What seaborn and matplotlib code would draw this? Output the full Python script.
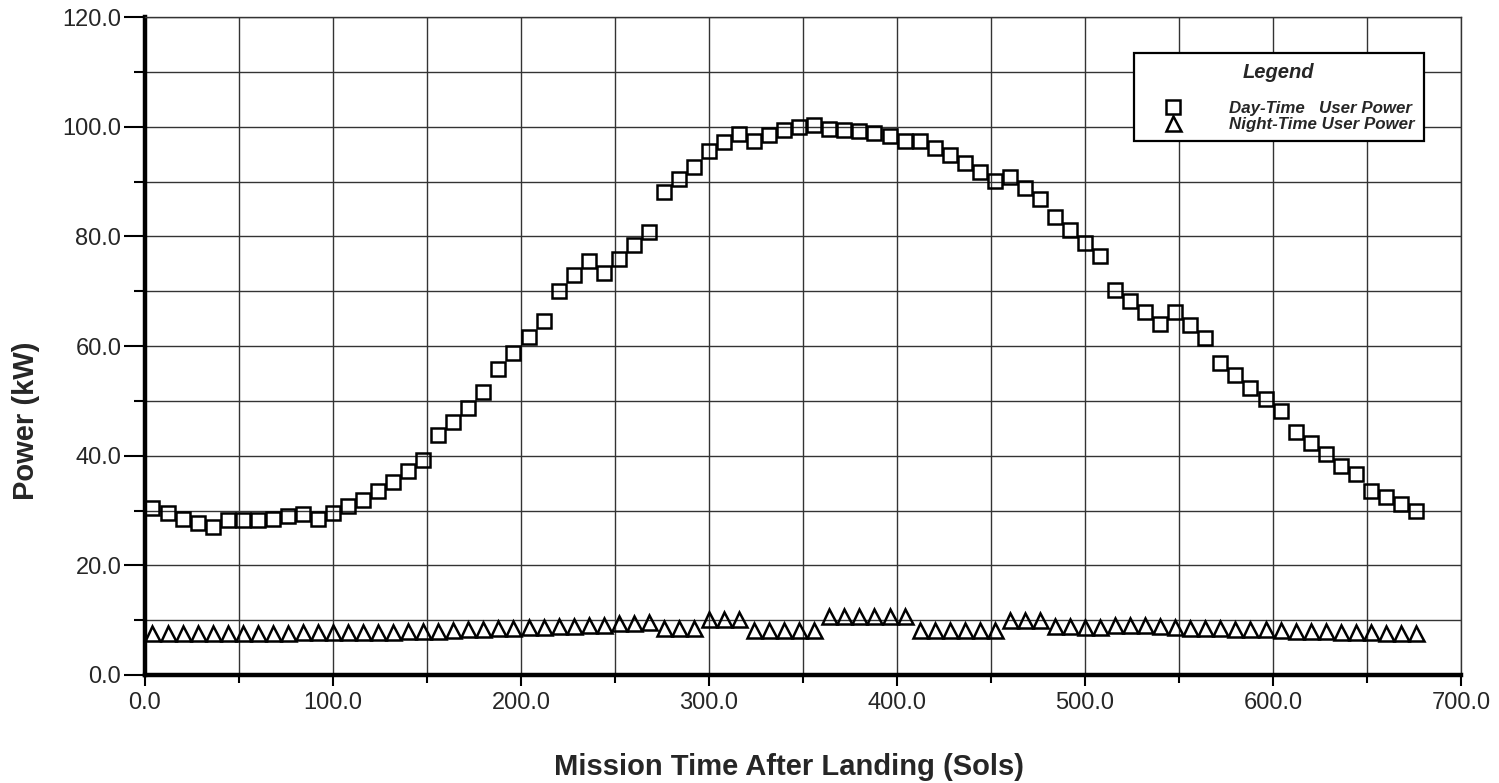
import matplotlib
matplotlib.use("Agg")
import matplotlib.pyplot as plt
import seaborn as sns
from matplotlib.ticker import MultipleLocator, FormatStrFormatter

# Mission time (sols) of each power sample
sols = [4, 12, 20, 28, 36, 44, 52, 60, 68, 76,
        84, 92, 100, 108, 116, 124, 132, 140, 148, 156,
        164, 172, 180, 188, 196, 204, 212, 220, 228, 236,
        244, 252, 260, 268, 276, 284, 292, 300, 308, 316,
        324, 332, 340, 348, 356, 364, 372, 380, 388, 396,
        404, 412, 420, 428, 436, 444, 452, 460, 468, 476,
        484, 492, 500, 508, 516, 524, 532, 540, 548, 556,
        564, 572, 580, 588, 596, 604, 612, 620, 628, 636,
        644, 652, 660, 668, 676]

# Day-time user power (kW)
day_kw = [30.5, 29.5, 28.4, 27.7, 27.0, 28.3, 28.2, 28.2, 28.4, 29.0,
          29.4, 28.4, 29.5, 30.8, 32.0, 33.6, 35.2, 37.3, 39.2, 43.8,
          46.1, 48.7, 51.6, 55.9, 58.8, 61.7, 64.6, 70.1, 73.0, 75.6,
          73.3, 75.9, 78.5, 80.9, 88.2, 90.4, 92.7, 95.6, 97.3, 98.7,
          97.4, 98.6, 99.5, 100.0, 100.4, 99.6, 99.4, 99.3, 98.8, 98.3,
          97.5, 97.4, 96.2, 94.9, 93.4, 91.7, 90.1, 90.9, 88.8, 86.8,
          83.6, 81.2, 78.8, 76.4, 70.3, 68.2, 66.2, 64.0, 66.3, 63.8,
          61.4, 56.9, 54.8, 52.4, 50.3, 48.2, 44.3, 42.3, 40.3, 38.2,
          36.6, 33.6, 32.4, 31.2, 30.0]

# Night-time user power (kW)
night_kw = [7.7, 7.7, 7.7, 7.7, 7.7, 7.7, 7.7, 7.7, 7.7, 7.7,
            7.8, 7.8, 7.8, 7.8, 7.8, 7.8, 7.9, 8.0, 8.0, 8.1,
            8.2, 8.3, 8.4, 8.5, 8.6, 8.7, 8.8, 8.9, 9.0, 9.1,
            9.2, 9.4, 9.5, 9.6, 8.5, 8.5, 8.5, 10.2, 10.2, 10.2,
            8.2, 8.2, 8.2, 8.2, 8.2, 10.8, 10.8, 10.8, 10.8, 10.8,
            10.8, 8.2, 8.2, 8.2, 8.2, 8.2, 8.2, 10.0, 10.0, 10.0,
            8.9, 8.9, 8.8, 8.8, 9.2, 9.2, 9.1, 9.0, 8.8, 8.6,
            8.5, 8.5, 8.4, 8.4, 8.3, 8.2, 8.0, 8.0, 8.0, 7.9,
            7.9, 7.8, 7.7, 7.6, 7.6]

day_label = "Day-Time   User Power"
night_label = "Night-Time User Power"

sns.set_style("white")
plt.rcParams["font.family"] = ["Liberation Sans", "DejaVu Sans"]

fig = plt.figure(figsize=(14.99, 7.83), dpi=100)
ax = fig.add_axes([0.0967, 0.138, 0.878, 0.840])

common = dict(linestyle="", color="black", mfc="none", mec="black",
              mew=1.8, zorder=3)
sns.lineplot(x=sols, y=day_kw, ax=ax, marker="s", ms=10.3,
             label=day_label, **common)
sns.lineplot(x=sols, y=night_kw, ax=ax, marker="^", ms=10.8,
             label=night_label, **common)

ax.set_xlim(0, 700)
ax.set_ylim(0, 120)

ax.xaxis.set_major_locator(MultipleLocator(100))
ax.xaxis.set_minor_locator(MultipleLocator(50))
ax.yaxis.set_major_locator(MultipleLocator(20))
ax.yaxis.set_minor_locator(MultipleLocator(10))
ax.xaxis.set_major_formatter(FormatStrFormatter("%.1f"))
ax.yaxis.set_major_formatter(FormatStrFormatter("%.1f"))

ax.grid(True, which="both", color="#333333", linewidth=1.0)
ax.set_axisbelow(True)

ax.tick_params(axis="both", which="both", direction="out", color="black",
               width=1.5, labelsize=17)
ax.tick_params(axis="y", which="major", length=15, pad=2)
ax.tick_params(axis="y", which="minor", length=8)
ax.tick_params(axis="x", which="major", length=8, pad=4)
ax.tick_params(axis="x", which="minor", length=6)
ax.tick_params(left=True, bottom=True, which="both")

for side in ("left", "bottom"):
    ax.spines[side].set_linewidth(3.2)
    ax.spines[side].set_color("black")
for side in ("top", "right"):
    ax.spines[side].set_linewidth(1.0)
    ax.spines[side].set_color("#333333")

ax.set_xlabel("Mission Time After Landing (Sols)", fontsize=21, fontweight="bold")
ax.set_ylabel("Power (kW)", fontsize=21, fontweight="bold")
ax.xaxis.set_label_coords(0.489, -0.118)
ax.yaxis.set_label_coords(-0.080, 0.386)

leg = ax.legend(loc="upper right", bbox_to_anchor=(0.972, 0.945),
                title="Legend", frameon=True, fancybox=False, shadow=False,
                framealpha=1.0, edgecolor="black", borderpad=0.55,
                handlelength=3.6, handletextpad=1.5, labelspacing=0.05,
                borderaxespad=0.0,
                prop={"size": 12.2, "weight": "bold", "style": "italic"},
                title_fontproperties={"size": 14.5, "weight": "bold", "style": "italic"})
leg.get_frame().set_linewidth(1.6)
# extra room between the legend title and its entries
leg._legend_box.sep = 14
leg.set_zorder(5)

fig.savefig("out.png", dpi=100, facecolor="white")
